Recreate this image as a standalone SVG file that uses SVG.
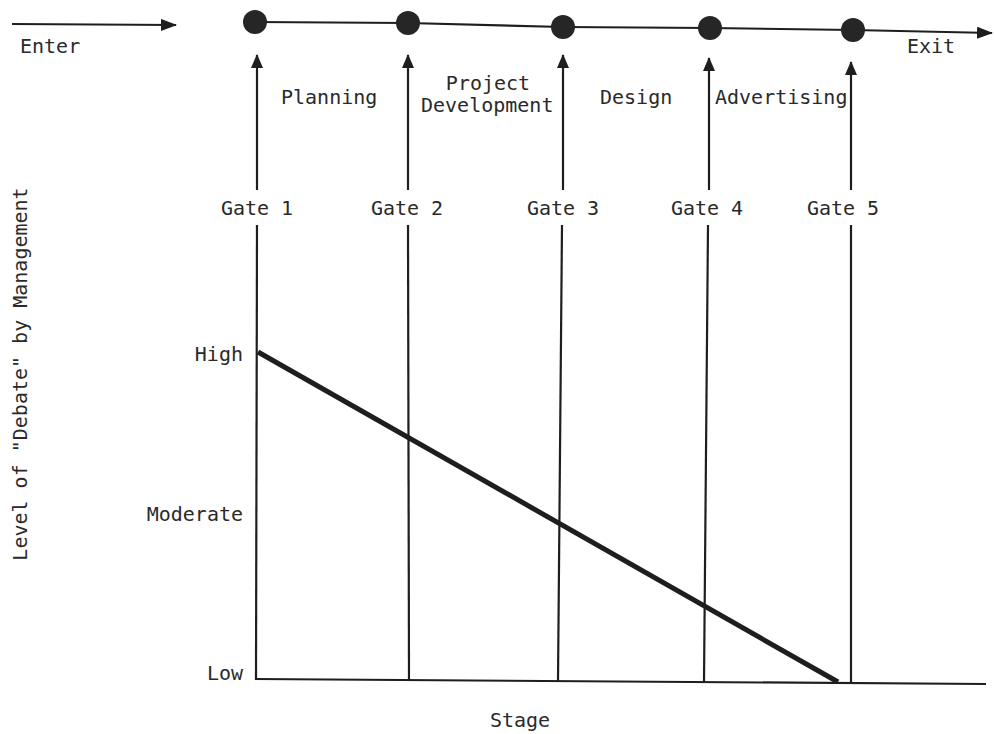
<svg xmlns="http://www.w3.org/2000/svg" width="994" height="734" viewBox="0 0 994 734">
<style>
text{font-family:"DejaVu Sans Mono","Liberation Mono",monospace;font-size:20px;fill:#2a2a2a}
.ln{stroke:#1e1e1e;stroke-width:2.2;fill:none}
.dot{fill:#262626}
</style>
<defs>
<marker id="ah" viewBox="0 0 14 12" refX="13" refY="6" markerWidth="14" markerHeight="12" markerUnits="userSpaceOnUse" orient="auto">
<path d="M0,0 L14,6 L0,12 Z" fill="#1e1e1e"/>
</marker>
<marker id="ar" viewBox="0 0 16 12" refX="15" refY="6" markerWidth="16" markerHeight="12" markerUnits="userSpaceOnUse" orient="auto">
<path d="M0,0 L16,6 L0,12 Z" fill="#1e1e1e"/>
</marker>
</defs>
<rect width="994" height="734" fill="#fff"/>
<g id="connectors">
<line class="ln" x1="12" y1="24" x2="176" y2="25" marker-end="url(#ar)"/>
<polyline class="ln" points="255,22 408,23 563,27 710,28 853,30 992,33" marker-end="url(#ar)"/>
<line class="ln" x1="257" y1="190" x2="257" y2="55" marker-end="url(#ah)"/>
<line class="ln" x1="257" y1="225" x2="256" y2="680"/>
<line class="ln" x1="408" y1="190" x2="408" y2="55" marker-end="url(#ah)"/>
<line class="ln" x1="408" y1="225" x2="409" y2="681"/>
<line class="ln" x1="563" y1="190" x2="563" y2="55" marker-end="url(#ah)"/>
<line class="ln" x1="562" y1="225" x2="558" y2="681"/>
<line class="ln" x1="709" y1="190" x2="709" y2="58" marker-end="url(#ah)"/>
<line class="ln" x1="708" y1="225" x2="704" y2="682"/>
<line class="ln" x1="851" y1="190" x2="851" y2="62" marker-end="url(#ah)"/>
<line class="ln" x1="851" y1="225" x2="851" y2="683"/>
<line class="ln" x1="255" y1="679" x2="986" y2="684"/>
<line x1="258" y1="352" x2="838" y2="682" stroke="#1e1e1e" stroke-width="5"/>
</g>
<g id="gate1"><circle class="dot" cx="255" cy="22" r="12"/><text x="257" y="215" text-anchor="middle">Gate 1</text></g>
<g id="gate2"><circle class="dot" cx="408" cy="23" r="12"/><text x="407" y="215" text-anchor="middle">Gate 2</text></g>
<g id="gate3"><circle class="dot" cx="563" cy="27" r="12"/><text x="563" y="215" text-anchor="middle">Gate 3</text></g>
<g id="gate4"><circle class="dot" cx="710" cy="28" r="12"/><text x="707" y="215" text-anchor="middle">Gate 4</text></g>
<g id="gate5"><circle class="dot" cx="853" cy="30" r="12"/><text x="843" y="215" text-anchor="middle">Gate 5</text></g>
<g id="labels">
<text x="20" y="53">Enter</text>
<text x="907" y="53">Exit</text>
<text x="281" y="104">Planning</text>
<text x="488" y="90" text-anchor="middle">Project</text>
<text x="421" y="112">Development</text>
<text x="600" y="104">Design</text>
<text x="715" y="104">Advertising</text>
<text x="243" y="361" text-anchor="end">High</text>
<text x="243" y="521" text-anchor="end">Moderate</text>
<text x="243" y="680" text-anchor="end">Low</text>
<text x="520" y="727" text-anchor="middle">Stage</text>
<text transform="translate(27,374) rotate(-90)" text-anchor="middle">Level of "Debate" by Management</text>
</g>
</svg>
